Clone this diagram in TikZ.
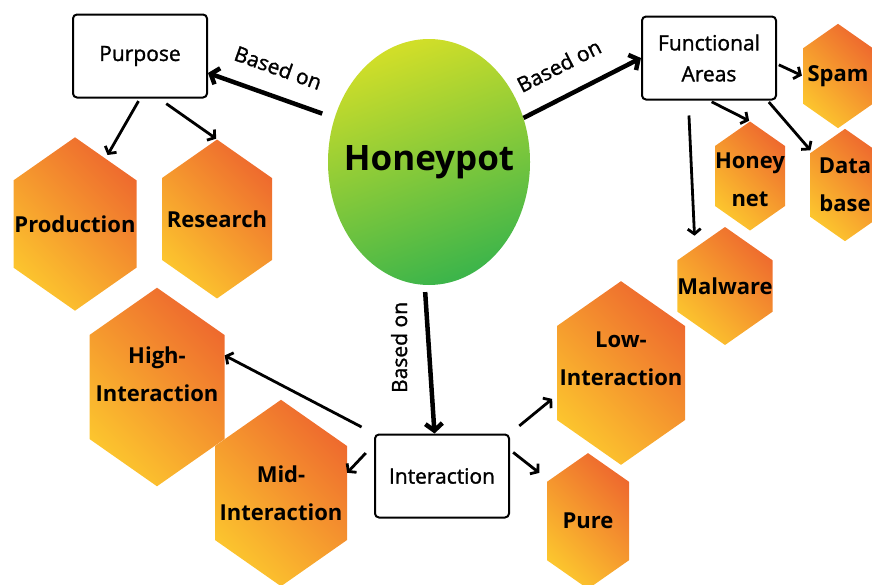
\documentclass[tikz,border=0pt]{standalone}
\usepackage{fontspec}
\setmainfont{Open Sans}
\newfontfamily\semifont{Open Sans}[FakeBold=1.3]
\usepackage{tikz}
\usetikzlibrary{
	shapes.geometric,
	shapes.symbols,
	arrows.meta
}

\definecolor{hexorange}{HTML}{EE6A2E}
\definecolor{hexyellow}{HTML}{FCC52E}
\definecolor{potlime}{HTML}{D0DE29}
\definecolor{potgreen}{HTML}{3DB54A}

\begin{document}
\begin{tikzpicture}[
		x=1pt, y=-1pt,
		box/.style={draw, line width=2pt, rounded corners=4pt, fill=white,
			minimum width=134pt, minimum height=83pt, align=center,
			font=\fontsize{21}{31}\semifont},
		hexa/.style 2 args={signal, signal to=north and south,
			signal pointer angle=110, inner sep=0pt,
			minimum width=#1, minimum height=#2, align=center,
			top color=hexorange, bottom color=hexyellow, shading angle=-45,
			font=\fontsize{22}{38}\selectfont\bfseries},
		pot/.style={ellipse, inner xsep=-30pt, inner ysep=0pt,
			minimum width=202pt, minimum height=246pt,
			top color=potlime, bottom color=potgreen, shading angle=20,
			font=\fontsize{35}{40}\selectfont\bfseries},
		based/.style={font=\fontsize{21}{25}\semifont},
		mainlink/.style={line width=4.5pt, -{Straight Barb[length=7pt,width=17pt]}},
		link/.style={line width=2.8pt, -{Straight Barb[length=5pt,width=13pt]}}
	]
	\path[use as bounding box, clip] (0,0) rectangle (872,584);

	\draw
		node[pot]                   (hp)      at (429,162) {Honeypot}
		node[box]                   (purpose) at (140,56)  {Purpose}
		node[box]                   (func)    at (709,58)  {Functional\\Areas}
		node[box]                   (inter)   at (442,476) {Interaction}

		node[hexa={123pt}{172pt}]   (prod)    at (75,224)  {Production}
		node[hexa={110pt}{152pt}]   (res)     at (217,219) {Research}
		node[hexa={70pt}{98pt}]     (spam)    at (838,76)  {Spam}
		node[hexa={70pt}{98pt}, text height=60pt, text depth=-14pt]
		                            (hnet)    at (750,176) {Honey\\net}
		node[hexa={70pt}{100pt}]    (dbase)   at (845,185) {Data\\base}
		node[hexa={85pt}{118pt}]    (malw)    at (725,286) {Malware}
		node[hexa={135pt}{190pt}, text depth=25pt]
		                            (high)    at (157,387) {High-\\Interaction}
		node[hexa={132pt}{180pt}]   (mid)     at (281,493) {Mid-\\Interaction}
		node[hexa={128pt}{180pt}, text depth=28pt]
		                            (low)     at (621,373) {Low-\\Interaction}
		node[hexa={82pt}{114pt}]    (pure)    at (588,521) {Pure}

		(hp.155)          edge[mainlink, shorten <=13pt]
		                  node[based, sloped, above=15pt, pos=.52] {Based on} (purpose.-14)
		(hp.25)           edge[mainlink]
		                  node[based, sloped, above=17pt, pos=.42] {Based on} (func.west)
		(hp.268)          edge[mainlink, shorten <=7pt]
		                  node[based, rotate=90, above=16pt, pos=.42] {Based on} (inter.100)

		(purpose.south)   edge[link, shorten <=3pt, shorten >=4pt]  (prod.65)
		(purpose.-66)     edge[link, shorten <=9pt, shorten >=1pt]  (res.north)
		(func.-5)         edge[link, shorten <=2pt, shorten >=1pt]  (spam.west)
		(func.south)      edge[link, shorten <=3pt, shorten >=1pt]  (hnet.north)
		(func.-36)        edge[link, shorten <=2pt, shorten >=2pt]  (dbase.135)
		(func.-116)       edge[link, shorten <=15pt, shorten >=12pt] (malw.128)
		(inter.north west) edge[link, shorten <=14pt]               (high.25)
		(inter.155)       edge[link, shorten <=12pt]                (mid.17)
		(inter.north east) edge[link, shorten <=12pt, shorten >=6pt] (low.199)
		(inter.21)        edge[link, shorten <=4pt, shorten >=12pt] (pure.134)
	;
\end{tikzpicture}
\end{document}
